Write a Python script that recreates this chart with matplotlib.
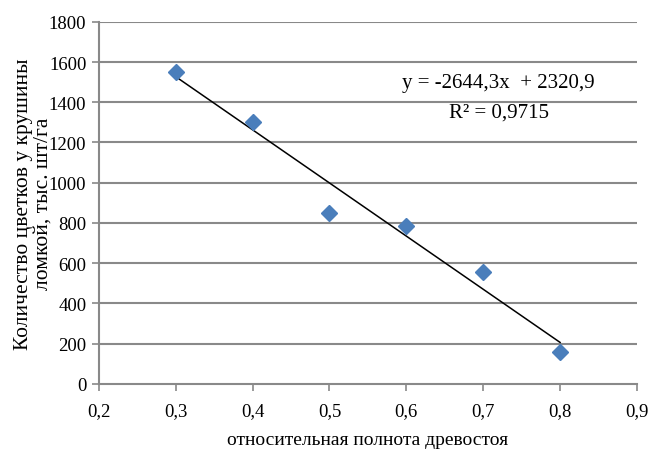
import numpy as np
import matplotlib.pyplot as plt

plt.rcParams['font.family'] = ['Liberation Serif', 'DejaVu Serif']

# data
polnota = [0.3, 0.4, 0.5, 0.6, 0.7, 0.8]
cvetki = [1550, 1300, 850, 785, 555, 160]
xticks = [0.2, 0.3, 0.4, 0.5, 0.6, 0.7, 0.8, 0.9]
yticks = [0, 200, 400, 600, 800, 1000, 1200, 1400, 1600, 1800]

fig = plt.figure(figsize=(6.5, 4.56), dpi=100)
ax = fig.add_axes([0.152, 0.156, 0.828, 0.794])

grid_col = '#898989'
for v in yticks[1:]:
    ax.axhline(v, color=grid_col, lw=1.5, zorder=0)

# linear trendline
k, b = np.polyfit(polnota, cvetki, 1)
xs = np.array([polnota[0], polnota[-1]])
ax.plot(xs, k * xs + b, color='black', lw=1.1, zorder=2)

ax.plot(polnota, cvetki, 'D', color='#4A7EBB', markersize=8, zorder=3)

ax.set_xlim(0.2, 0.9)
ax.set_ylim(0, 1800)
ax.set_xticks(xticks)
ax.set_yticks(yticks)
ax.set_xticklabels([('%.1f' % t).replace('.', ',') for t in xticks])
ax.set_yticklabels([str(t) for t in yticks])

for s in ['top', 'right']:
    ax.spines[s].set_visible(False)
for s in ['left', 'bottom']:
    ax.spines[s].set_color(grid_col)
    ax.spines[s].set_linewidth(1.5)
ax.tick_params(direction='out', length=5, width=1.2, color=grid_col,
               labelsize=13.5, pad=4)
ax.tick_params(axis='x', pad=8)

ax.set_xlabel('относительная полнота древостоя', fontsize=14, labelpad=9)
ax.set_ylabel('Количество цветков у крушины\nломкой, тыс. шт/га', fontsize=15.5,
              linespacing=1.05)
ax.yaxis.set_label_coords(-0.086, 0.5)

ax.text(0.72, 1500, 'y = -2644,3x  + 2320,9', fontsize=15, ha='center', va='center')
ax.text(0.72, 1350, 'R² = 0,9715', fontsize=15, ha='center', va='center')

fig.savefig('out.png', dpi=100)
